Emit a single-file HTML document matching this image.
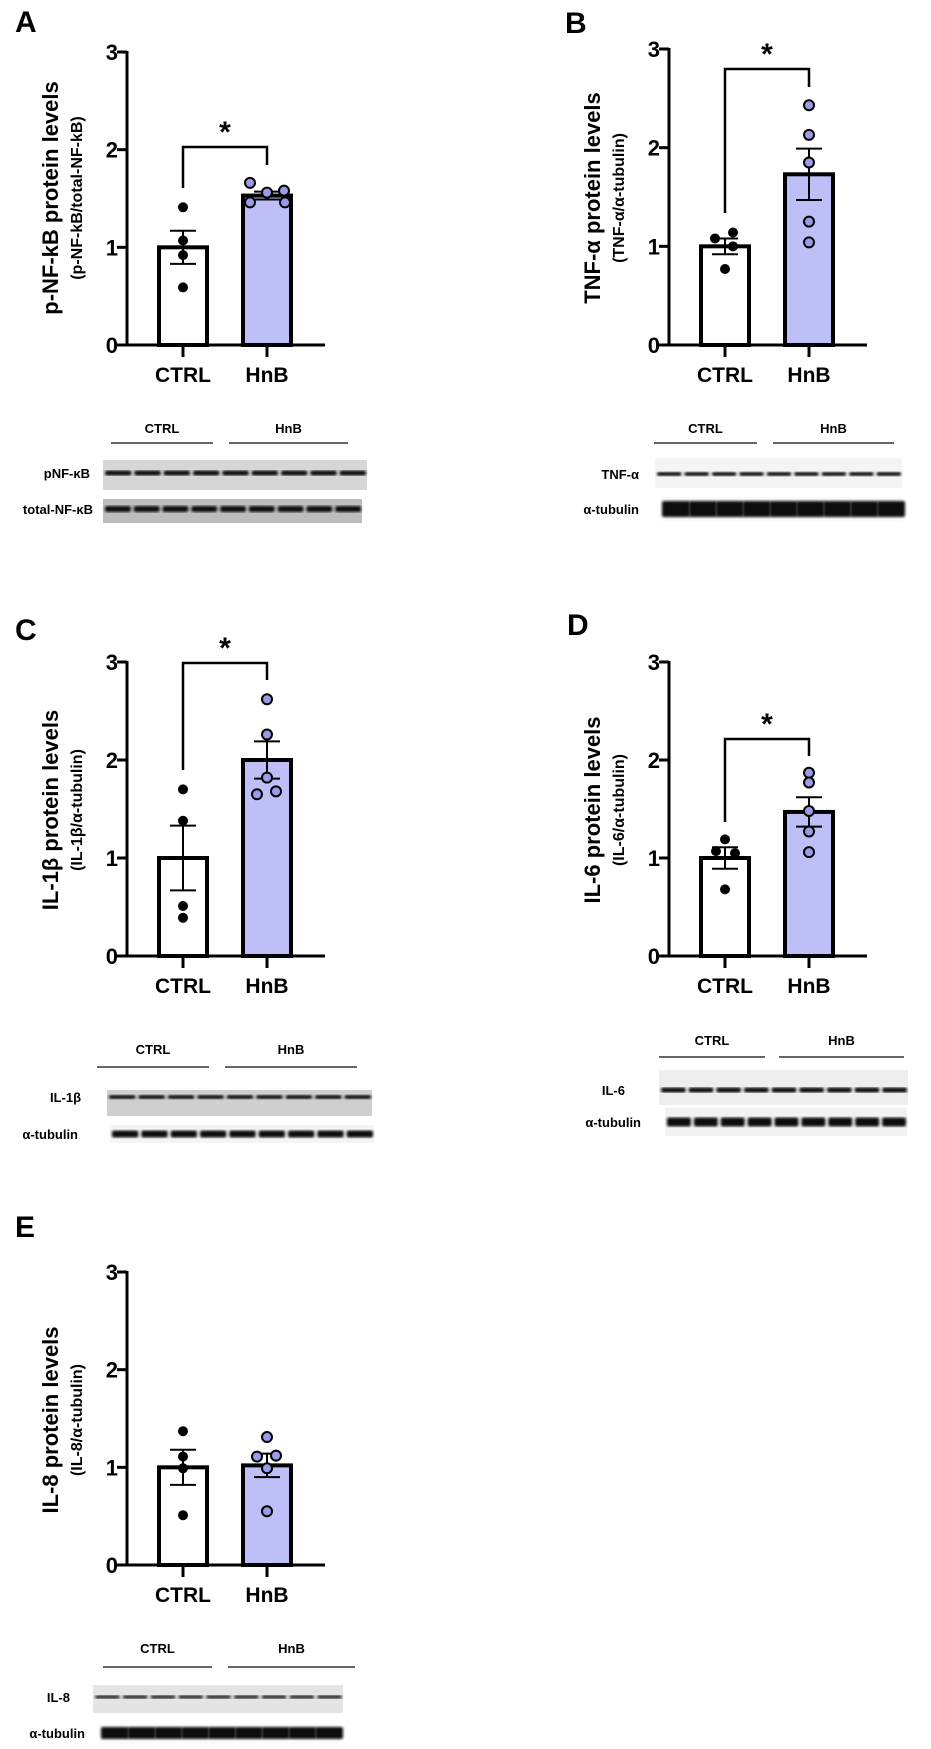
<!DOCTYPE html>
<html><head><meta charset="utf-8"><style>
body{margin:0;background:#fff}
svg{display:block;font-family:"Liberation Sans",Arial,sans-serif;font-weight:bold}
</style></head><body>
<svg id="fig" width="931" height="1749" viewBox="0 0 931 1749" xmlns="http://www.w3.org/2000/svg">
<defs>
<filter id="blur1"><feGaussianBlur stdDeviation="1.2"/></filter>
</defs>
</svg>
<script>
// ---- data ----
const categories = ["CTRL", "HnB"];
const tickLabels = ["0", "1", "2", "3"];
const panelLetters = ["A", "B", "C", "D", "E"];
const yTitles = ["p-NF-kB protein levels", "TNF-α protein levels", "IL-1β protein levels", "IL-6 protein levels", "IL-8 protein levels"];
const ySubtitles = ["(p-NF-kB/total-NF-kB)", "(TNF-α/α-tubulin)", "(IL-1β/α-tubulin)", "(IL-6/α-tubulin)", "(IL-8/α-tubulin)"];
const ctrlMeans = [1.0, 1.0, 1.0, 1.0, 1.0];
const hnbMeans = [1.53, 1.73, 2.0, 1.47, 1.02];
const ctrlSem = [0.17, 0.08, 0.33, 0.11, 0.18];
const hnbSem = [0.04, 0.26, 0.19, 0.15, 0.12];
const ctrlPointsA = [1.41, 1.07, 0.92, 0.59];
const hnbPointsA = [1.66, 1.46, 1.56, 1.58, 1.46];
const ctrlPointsB = [1.08, 1.14, 1.0, 0.77];
const hnbPointsB = [2.43, 2.13, 1.85, 1.25, 1.04];
const ctrlPointsC = [1.70, 1.38, 0.51, 0.39];
const hnbPointsC = [2.62, 2.26, 1.82, 1.65, 1.68];
const ctrlPointsD = [1.19, 1.07, 1.05, 0.68];
const hnbPointsD = [1.87, 1.77, 1.48, 1.27, 1.06];
const ctrlPointsE = [1.37, 1.11, 0.99, 0.51];
const hnbPointsE = [1.31, 1.11, 1.12, 0.99, 0.55];
const significant = [true, true, true, true, false];

const ctrlPoints = [ctrlPointsA, ctrlPointsB, ctrlPointsC, ctrlPointsD, ctrlPointsE];
const hnbPoints = [hnbPointsA, hnbPointsB, hnbPointsC, hnbPointsD, hnbPointsE];
// layout (not data)
const layout = [
  {ax:127, y0:345, y3:52, lx:15, ly:32, tx:50, sx:76, tcy:198, bky:147, bkc:188, bkh:165},
  {ax:669, y0:345, y3:49, lx:565, ly:33, tx:592, sx:618, tcy:198, bky:69, bkc:213, bkh:87},
  {ax:127, y0:956, y3:662, lx:15, ly:640, tx:50, sx:76, tcy:810, bky:663, bkc:770, bkh:680},
  {ax:669, y0:956, y3:662, lx:567, ly:635, tx:592, sx:618, tcy:810, bky:739, bkc:822, bkh:756},
  {ax:127, y0:1565, y3:1272, lx:15, ly:1237, tx:50, sx:76, tcy:1420, bky:0, bkc:0, bkh:0}
];
const xJitterH = [
  [-17, -17, 0, 17, 18],
  [0, 0, 0, 0, 0],
  [0, 0, 0, -10, 9],
  [0, 0, 0, 0, 0],
  [0, -10, 9, 0, 0]
];
const xJitterCD = [[0,0,0,0],[-10,8,8,0],[0,0,0,0],[0,-9,10,0],[0,0,0,0]];

const NS = "http://www.w3.org/2000/svg";
const svg = document.getElementById("fig");
function el(tag, attrs, parent) {
  const e = document.createElementNS(NS, tag);
  for (const k in attrs) e.setAttribute(k, attrs[k]);
  (parent || svg).appendChild(e);
  return e;
}
function txt(s, attrs, parent) { const t = el("text", attrs, parent); t.textContent = s; return t; }

for (let p = 0; p < 5; p++) {
  const L = layout[p];
  const unit = (L.y0 - L.y3) / 3;
  const yS = v => L.y0 - v * unit;
  const xC = L.ax + 56, xH = L.ax + 140;
  const g = el("g", {});
  
  

  const lt = txt(panelLetters[p], {x: L.lx, y: L.ly, "font-size": 30}, g);
  
  

  const b1 = el("rect", {x: L.ax + 32, y: yS(ctrlMeans[p]), width: 48, height: yS(0) - yS(ctrlMeans[p]), fill: "#fff", stroke: "#000", "stroke-width": 4}, g);
  
  
  const b2 = el("rect", {x: L.ax + 116, y: yS(hnbMeans[p]), width: 48, height: yS(0) - yS(hnbMeans[p]), fill: "#bfbff8", stroke: "#000", "stroke-width": 4}, g);
  
  

  [[xC, ctrlMeans[p], ctrlSem[p]], [xH, hnbMeans[p], hnbSem[p]]].forEach((e, i) => {
    const eg = el("g", {stroke: "#000", "stroke-width": 2}, g);
    
    
    el("line", {x1: e[0], x2: e[0], y1: yS(e[1] + e[2]), y2: yS(e[1] - e[2])}, eg);
    el("line", {x1: e[0] - 13, x2: e[0] + 13, y1: yS(e[1] + e[2]), y2: yS(e[1] + e[2])}, eg);
    el("line", {x1: e[0] - 13, x2: e[0] + 13, y1: yS(e[1] - e[2]), y2: yS(e[1] - e[2])}, eg);
  });

  ctrlPoints[p].forEach((v, i) => {
    const c = el("circle", {cx: xC + xJitterCD[p][i], cy: yS(v), r: 5, fill: "#000"}, g);
    
    
  });
  hnbPoints[p].forEach((v, i) => {
    const c = el("circle", {cx: xH + xJitterH[p][i], cy: yS(v), r: 5, fill: "#9b9be8", stroke: "#000", "stroke-width": 2}, g);
    
    
  });

  const axg = el("g", {stroke: "#000", "stroke-width": 3, fill: "none"}, g);
  
  
  el("line", {x1: L.ax, x2: L.ax, y1: L.y3 - 1, y2: L.y0}, axg);
  el("line", {x1: L.ax - 11, x2: L.ax + 198, y1: L.y0, y2: L.y0}, axg);
  for (let t = 1; t <= 3; t++) el("line", {x1: L.ax - 10, x2: L.ax, y1: yS(t), y2: yS(t)}, axg);
  el("line", {x1: xC, x2: xC, y1: L.y0, y2: L.y0 + 12}, axg);
  el("line", {x1: xH, x2: xH, y1: L.y0, y2: L.y0 + 12}, axg);

  tickLabels.forEach((s, t) => {
    const tl = txt(s, {x: L.ax - 9, y: yS(t) + 8, "font-size": 22, "text-anchor": "end"}, g);
    
    
  });
  categories.forEach((s, i) => {
    const cl = txt(s, {x: i ? xH : xC, y: L.y0 + 37, "font-size": 21, "text-anchor": "middle"}, g);
    
    
  });

  const t1 = txt(yTitles[p], {x: 0, y: 0, "font-size": 22, "text-anchor": "middle", transform: `translate(${L.tx + 8},${L.tcy}) rotate(-90)`}, g);
  
  
  const t2 = txt(ySubtitles[p], {x: 0, y: 0, "font-size": 16, "text-anchor": "middle", transform: `translate(${L.sx + 6},${L.tcy}) rotate(-90)`}, g);
  
  

  if (significant[p]) {
    const bk = el("polyline", {points: `${xC},${L.bkc} ${xC},${L.bky} ${xH},${L.bky} ${xH},${L.bkh}`, fill: "none", stroke: "#000", "stroke-width": 2.5}, g);
    
    
    const st = txt("*", {x: (xC + xH) / 2, y: L.bky - 5, "font-size": 30, "text-anchor": "middle"}, g);
    
    
  }
}

// ---- western blots ----
const blots = [
  {hy:433, l1:[111,213], l2:[229,348], ly:443, rows:[
    {label:"pNF-κB", lx:90, y:460, h:30, x1:103, x2:367, band:473, bh:5, bg:"#d6d6d6"},
    {label:"total-NF-κB", lx:93, y:499, h:24, x1:103, x2:362, band:509, bh:6, bg:"#bdbdbd"}]},
  {hy:433, l1:[654,757], l2:[773,894], ly:443, rows:[
    {label:"TNF-α", lx:639, y:458, h:30, x1:655, x2:902, band:474, bh:4, bg:"#f4f4f4"},
    {label:"α-tubulin", lx:639, y:497, h:24, x1:660, x2:902, band:509, bh:16, bg:"#fafafa"}]},
  {hy:1054, l1:[97,209], l2:[225,357], ly:1067, rows:[
    {label:"IL-1β", lx:81, y:1090, h:26, x1:107, x2:372, band:1097, bh:4, bg:"#cfcfcf"},
    {label:"α-tubulin", lx:78, y:1125, h:18, x1:110, x2:374, band:1134, bh:7, bg:"#f4f4f4"}]},
  {hy:1045, l1:[659,765], l2:[779,904], ly:1057, rows:[
    {label:"IL-6", lx:625, y:1070, h:35, x1:659, x2:908, band:1090, bh:5, bg:"#eeeeee"},
    {label:"α-tubulin", lx:641, y:1108, h:28, x1:665, x2:907, band:1122, bh:9, bg:"#f2f2f2"}]},
  {hy:1653, l1:[103,212], l2:[228,355], ly:1667, rows:[
    {label:"IL-8", lx:70, y:1685, h:28, x1:93, x2:343, band:1697, bh:3, bg:"#e4e4e4"},
    {label:"α-tubulin", lx:85, y:1724, h:20, x1:99, x2:340, band:1733, bh:12, bg:"#fbfbfb"}]}
];
blots.forEach((B, i) => {
  const g = el("g", {});
  
  
  const c1 = txt("CTRL", {x: (B.l1[0] + B.l1[1]) / 2, y: B.hy, "font-size": 13, "text-anchor": "middle"}, g);
  
  
  const c2 = txt("HnB", {x: (B.l2[0] + B.l2[1]) / 2, y: B.hy, "font-size": 13, "text-anchor": "middle"}, g);
  
  
  el("line", {x1: B.l1[0], x2: B.l1[1], y1: B.ly, y2: B.ly, stroke: "#333", "stroke-width": 1.5}, g);
  el("line", {x1: B.l2[0], x2: B.l2[1], y1: B.ly, y2: B.ly, stroke: "#333", "stroke-width": 1.5}, g);
  B.rows.forEach(r => {
    const lb = txt(r.label, {x: r.lx, y: r.band + 5, "font-size": 13, "text-anchor": "end"}, g);
    
    
    const bg = el("rect", {x: r.x1, y: r.y, width: r.x2 - r.x1, height: r.h, fill: r.bg}, g);
    
    
    const n = 9, w = (r.x2 - r.x1) / n;
    const gap = r.bh >= 12 ? 0 : 3;
    for (let k = 0; k < n; k++) {
      const b = el("rect", {x: r.x1 + k * w + 2, y: r.band - r.bh / 2, width: w - gap + (gap ? 0 : 1), height: r.bh, rx: 2, fill: "#111", filter: "url(#blur1)"}, g);
      
      
    }
  });
});
</script>
</body></html>
